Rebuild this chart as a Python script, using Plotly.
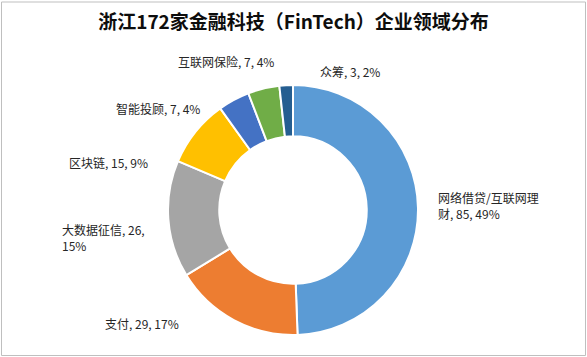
import plotly.graph_objects as go

# ---- data ----
categories = ["网络借贷/互联网理财", "支付", "大数据征信", "区块链", "智能投顾", "互联网保险", "众筹"]
counts = [85, 29, 26, 15, 7, 7, 3]
title_text = "浙江172家金融科技（FinTech）企业领域分布"

# ---- styles / layout ----
colors = ["#5B9BD5", "#ED7D31", "#A5A5A5", "#FFC000", "#4472C4", "#70AD47", "#255E91"]
# label anchor positions in pixels (left x, centre y) and wrap points
label_pos = [(436, 206), (103, 323), (60, 237), (67, 163), (114, 108), (176, 61), (318, 72)]
wrap_at = [9, None, 10, None, None, None, None]

W, H = 587, 357
cx, cy, R = 293, 210, 125

total = sum(counts)
pcts = [round(v * 100 / total) for v in counts]

fig = go.Figure()
fig.add_trace(go.Pie(
    labels=categories,
    values=counts,
    sort=False,
    direction="clockwise",
    rotation=0,
    hole=0.59,
    marker=dict(colors=colors, line=dict(color="white", width=2)),
    textinfo="none",
    hoverinfo="label+value+percent",
    showlegend=False,
    domain=dict(x=[(cx - R) / W, (cx + R) / W], y=[(H - cy - R) / H, (H - cy + R) / H]),
))

annotations = []
for cat, v, p, (lx, ly), w in zip(categories, counts, pcts, label_pos, wrap_at):
    txt = f"{cat}, {v}, {p}%"
    if w is not None:
        txt = txt[:w] + "<br>" + txt[w:].lstrip()
    annotations.append(dict(
        text=txt, xref="paper", yref="paper",
        x=lx / W, y=1 - ly / H, xanchor="left", yanchor="middle",
        align="left", showarrow=False,
        font=dict(family="Noto Sans CJK SC", size=12, color="#262626"),
    ))

fig.update_layout(
    width=W, height=H,
    margin=dict(l=0, r=0, t=0, b=0),
    paper_bgcolor="white", plot_bgcolor="white",
    title=dict(text=f"<b>{title_text}</b>", x=0.5, xanchor="center",
               y=1 - 22 / H, yanchor="middle", yref="container",
               font=dict(family="Noto Sans CJK SC", size=19, color="#0D0D0D")),
    annotations=annotations,
    shapes=[dict(type="rect", xref="paper", yref="paper",
                 x0=1.5 / W, x1=585.5 / W, y0=1 - 355.5 / H, y1=1 - 2 / H,
                 line=dict(color="#BFBFBF", width=1))],
)

fig.write_html("out.html", config={"displayModeBar": False},
               post_script="document.body.style.margin='0';document.body.style.overflow='hidden';")
